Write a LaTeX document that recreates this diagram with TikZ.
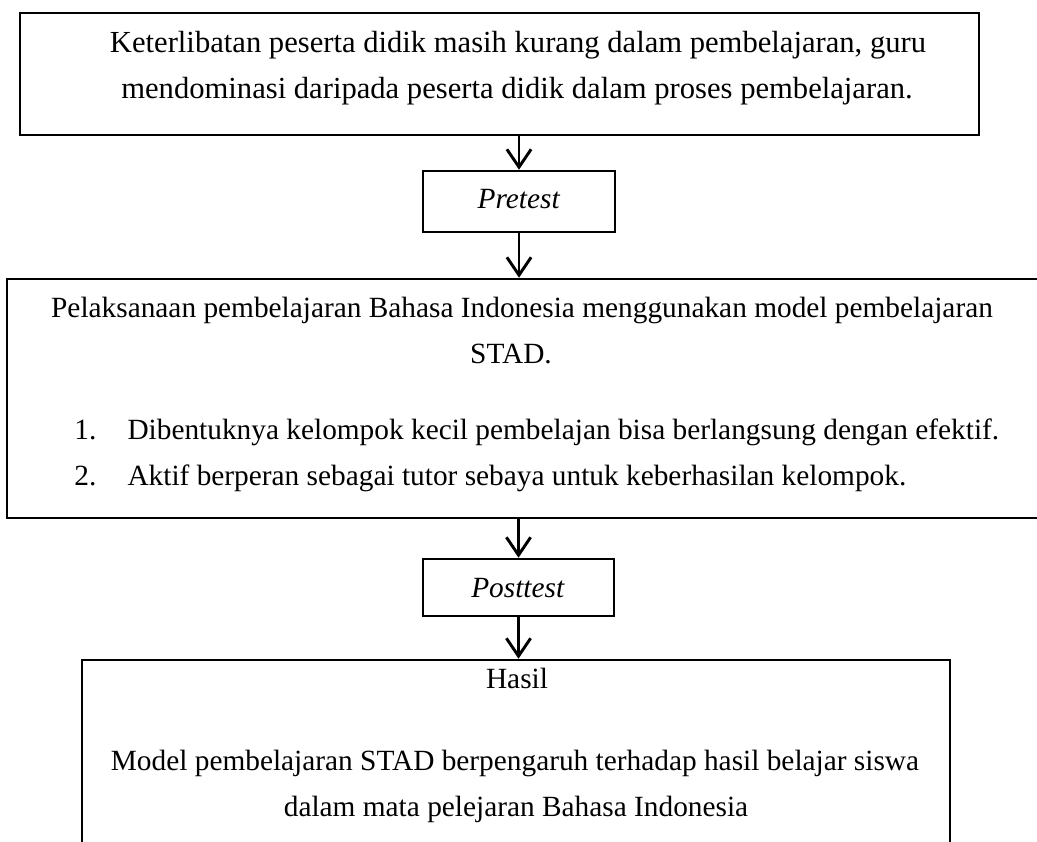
\documentclass[tikz,border=0pt]{standalone}
\usepackage{fontspec}
\setmainfont{Liberation Serif}
\usetikzlibrary{arrows.meta,fit}

\tikzset{
    kotak/.style={draw, line width=1pt, inner sep=0pt},
    teks/.style={anchor=base, inner sep=0pt, font=\fontsize{11.5}{14}\selectfont},
    panah/.style={line width=1.15pt, -{Straight Barb[length=7pt,width=9.5pt]}}
}

\begin{document}
\begin{tikzpicture}[x=0.392pt, y=-0.392pt]
    \useasboundingbox (0,0) rectangle (1037,841);
    \clip (0,0) rectangle (1037,841);

    % sudut kotak
    \coordinate (A1) at (20,13);    \coordinate (A2) at (979,135);
    \coordinate (B1) at (423,171);  \coordinate (B2) at (615,232);
    \coordinate (C1) at (7,279);    \coordinate (C2) at (1060,518);
    \coordinate (D1) at (423,559);  \coordinate (D2) at (614,616);
    \coordinate (E1) at (82,660);   \coordinate (E2) at (950,880);

    \node[kotak, fit=(A1)(A2)] (masalah) {};
    \node[kotak, fit=(B1)(B2)] (pretest) {};
    \node[kotak, fit=(C1)(C2)] (pelaksanaan) {};
    \node[kotak, fit=(D1)(D2)] (posttest) {};
    \node[kotak, fit=(E1)(E2)] (hasil) {};

    % teks
    \node[teks, font=\fontsize{12}{14}\selectfont] (m1) at (518,52) {Keterlibatan peserta didik masih kurang dalam pembelajaran, guru};
    \node[teks, font=\fontsize{12}{14}\selectfont] (m2) at (517,98) {mendominasi daripada peserta didik dalam proses pembelajaran.};
    \node[teks] (pre) at (519,208) {\textit{Pretest}};
    \node[teks] (p1) at (522,317) {Pelaksanaan pembelajaran Bahasa Indonesia menggunakan model pembelajaran};
    \node[teks] (p2) at (511,363) {STAD.};
    \node[teks, anchor=base east] (n1) at (97,439) {1.};
    \node[teks, anchor=base west] (l1) at (127,439) {Dibentuknya kelompok kecil pembelajan bisa berlangsung dengan efektif.};
    \node[teks, anchor=base east] (n2) at (97,485) {2.};
    \node[teks, anchor=base west] (l2) at (127,485) {Aktif berperan sebagai tutor sebaya untuk keberhasilan kelompok.};
    \node[teks] (post) at (518,597) {\textit{Posttest}};
    \node[teks] (h0) at (517,688) {Hasil};
    \node[teks] (h1) at (515,770) {Model pembelajaran STAD berpengaruh terhadap hasil belajar siswa};
    \node[teks] (h2) at (516,816) {dalam mata pelejaran Bahasa Indonesia};

    % panah
    \draw[panah] (pretest.north |- masalah.south) -- (pretest.north);
    \draw[panah] (pretest.south) -- (pretest.south |- pelaksanaan.north);
    \draw[panah] (posttest.north |- pelaksanaan.south) -- (posttest.north);
    \draw[panah] (posttest.south) -- (posttest.south |- hasil.north);
\end{tikzpicture}
\end{document}
